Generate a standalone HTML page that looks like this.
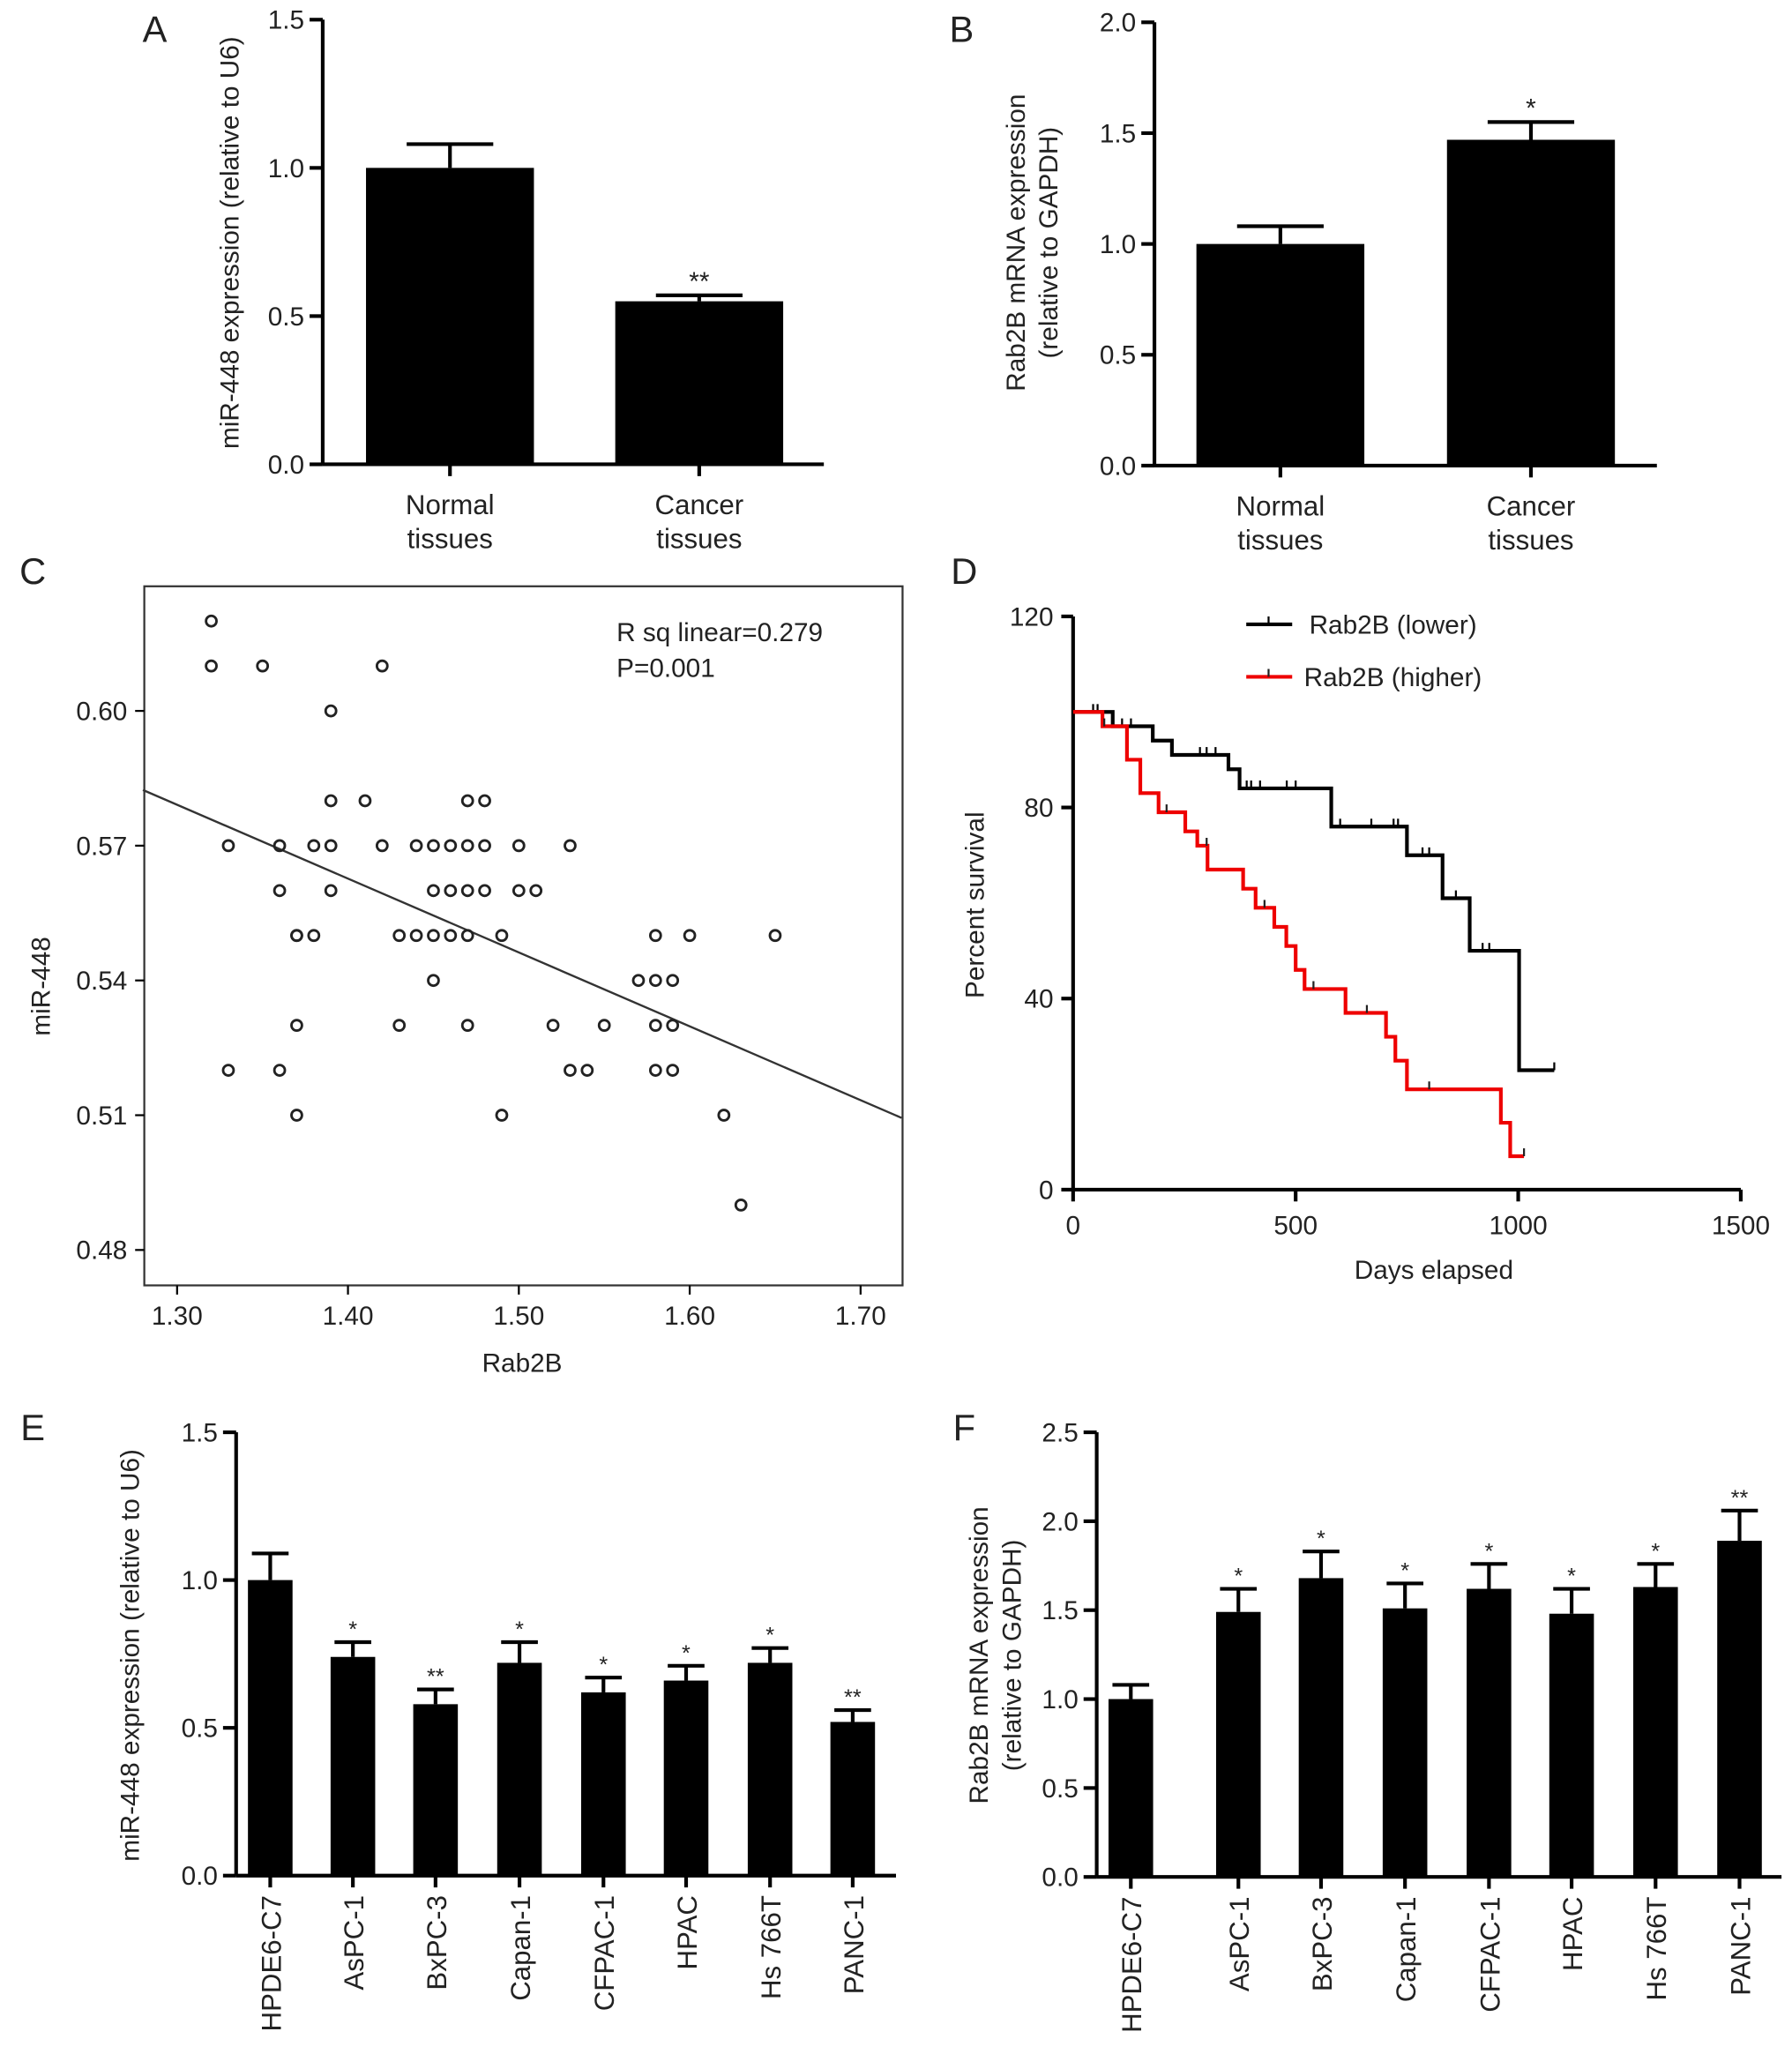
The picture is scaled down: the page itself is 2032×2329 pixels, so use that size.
<!DOCTYPE html>
<html><head><meta charset="utf-8"><style>
html,body{margin:0;padding:0;background:#fff}
svg{display:block;font-family:"Liberation Sans",Arial,sans-serif}
</style></head><body>
<svg id="fig" width="2032" height="2329" viewBox="0 0 1366 1566" preserveAspectRatio="none" xmlns="http://www.w3.org/2000/svg"></svg>
<script>
// Panel A
const aCats=["Normal|tissues","Cancer|tissues"];const aVals=[1.0,0.55];const aErr=[0.08,0.02];const aStars=["","**"];const aTicks=[0,0.5,1.0,1.5];
// Panel B
const bCats=["Normal|tissues","Cancer|tissues"];const bVals=[1.0,1.47];const bErr=[0.08,0.08];const bStars=["","*"];const bTicks=[0,0.5,1.0,1.5,2.0];
// Panel C
const cX=[1.32,1.32,1.35,1.42,1.39,1.33,1.36,1.38,1.39,1.39,1.41,1.42,1.36,1.39,1.37,1.37,1.38,1.33,1.36,1.37,1.37,1.43,1.44,1.45,1.46,1.47,1.44,1.45,1.46,1.47,1.48,1.47,1.48,1.45,1.46,1.47,1.48,1.50,1.51,1.50,1.53,1.49,1.45,1.43,1.47,1.49,1.52,1.53,1.54,1.55,1.57,1.58,1.59,1.58,1.60,1.58,1.59,1.58,1.59,1.62,1.63,1.65];
const cY=[0.62,0.61,0.61,0.61,0.60,0.57,0.57,0.57,0.57,0.58,0.58,0.57,0.56,0.56,0.55,0.55,0.55,0.52,0.52,0.53,0.51,0.55,0.55,0.55,0.55,0.55,0.57,0.57,0.57,0.57,0.57,0.58,0.58,0.56,0.56,0.56,0.56,0.56,0.56,0.57,0.57,0.55,0.54,0.53,0.53,0.51,0.53,0.52,0.52,0.53,0.54,0.54,0.54,0.55,0.55,0.53,0.53,0.52,0.52,0.51,0.49,0.55];
const cXTicks=[1.30,1.40,1.50,1.60,1.70];const cYTicks=[0.48,0.51,0.54,0.57,0.60];
const cLine=[[1.28,0.5824],[1.724,0.5094]];
// Panel D
const dBlackT=[0,89,179,222,349,374,580,750,830,891,1002,1081];const dBlackV=[100,97,94,91,88,84,76,70,61,50,25,25];
const dRedT=[0,66,121,151,192,252,279,302,382,410,452,479,500,520,612,703,724,750,961,982,1013];const dRedV=[100,97,90,83,79,75,72,67,63,59,55,51,46,42,37,32,27,21,14,7,7];
const dBlackCens=[[45,100],[55,100],[110,97],[130,97],[285,91],[300,91],[320,91],[390,84],[400,84],[420,84],[480,84],[500,84],[600,76],[670,76],[720,76],[730,76],[785,70],[800,70],[860,61],[920,50],[935,50],[1081,25]];
const dRedCens=[[70,97],[430,59],[210,79],[300,72],[540,42],[660,37],[800,21],[1013,7]];
const dXTicks=[0,500,1000,1500];const dYTicks=[0,40,80,120];
// Panel E
const eCats=["HPDE6-C7","AsPC-1","BxPC-3","Capan-1","CFPAC-1","HPAC","Hs 766T","PANC-1"];
const eVals=[1.0,0.74,0.58,0.72,0.62,0.66,0.72,0.52];const eErr=[0.09,0.05,0.05,0.07,0.05,0.05,0.05,0.04];const eStars=["","*","**","*","*","*","*","**"];const eTicks=[0,0.5,1.0,1.5];
// Panel F
const fVals=[1.0,1.49,1.68,1.51,1.62,1.48,1.63,1.89];const fErr=[0.08,0.13,0.15,0.14,0.14,0.14,0.13,0.17];const fStars=["","*","*","*","*","*","*","**"];const fTicks=[0,0.5,1.0,1.5,2.0,2.5];

const svg=document.getElementById('fig');const NS="http://www.w3.org/2000/svg";
function mk(tag,at,parent){const e=document.createElementNS(NS,tag);for(const k in at)e.setAttribute(k,at[k]);(parent||svg).appendChild(e);return e;}
function txt(s,x,y,size,anchor,parent,rot){const t=mk('text',{x:x,y:y,'font-size':size,'text-anchor':anchor||'middle',fill:'#222'},parent);if(rot)t.setAttribute('transform','rotate(-90 '+x+' '+y+')');t.textContent=s;return t;}
function line(x1,y1,x2,y2,parent,w,c){return mk('line',{x1:x1,y1:y1,x2:x2,y2:y2,stroke:c||'#000','stroke-width':w||2.8},parent);}
function letter(s,x,y){const t=txt(s,x,y,28,'middle');}

function barPanel(o){
  const g=mk('g',{});
  const ys=v=>o.y0-(v/o.max)*(o.y0-o.yTop);
  const ax=line(o.ax,o.yTop,o.ax,o.y0,g);
  const bx=line(o.ax,o.y0,o.xEnd,o.y0,g);
  o.ticks.forEach(t=>{line(o.ax-10,ys(t),o.ax,ys(t),g);const l=txt(t.toFixed(1),o.ax-14,ys(t)+7,20,'end',g);});
  o.vals.forEach((v,i)=>{const cx=o.centers[i];
    const r=mk('rect',{x:cx-o.bw/2,y:ys(v),width:o.bw,height:o.y0-ys(v),fill:'#000'},g);
    const ye=ys(v+o.err[i]);line(cx,ys(v),cx,ye,g);line(cx-o.cap/2,ye,cx+o.cap/2,ye,g);
    if(o.stars[i]){const s=txt(o.stars[i],cx,ye-4,o.starSize||20,'middle',g);}
    line(cx,o.y0,cx,o.y0+9,g);
    if(o.rotLabels){const l=txt(o.cats[i],cx+8,o.y0+15,21,'end',g,true);}
    else{const p=o.cats[i].split('|');const l1=txt(p[0],cx,o.y0+38,21,'middle',g);const l2=txt(p[1],cx,o.y0+64,21,'middle',g);}
  });
  o.ylab.forEach((s,k)=>{const l=txt(s,o.ylabX[k],o.ylabY,20,'middle',g,true);});
}
letter('A',118,32);
barPanel({name:'panel-a-chart',ax:246,yTop:15,y0:354,max:1.5,xEnd:628,centers:[343,533],bw:128,cap:66,vals:aVals,err:aErr,stars:aStars,ticks:aTicks,cats:aCats,ylab:['miR-448 expression (relative to U6)'],ylabX:[182],ylabY:185});
letter('B',733,32);
barPanel({name:'panel-b-chart',ax:880,yTop:17,y0:355,max:2.0,xEnd:1263,centers:[976,1167],bw:128,cap:66,vals:bVals,err:bErr,stars:bStars,ticks:bTicks,cats:bCats,ylab:['Rab2B mRNA expression','(relative to GAPDH)'],ylabX:[781,806],ylabY:185});
letter('E',25,1098);
barPanel({name:'panel-e-chart',ax:180,yTop:1092,y0:1430,max:1.5,xEnd:683,centers:[206,269,332,396,460,523,587,650],bw:34,cap:28,vals:eVals,err:eErr,stars:eStars,ticks:eTicks,cats:eCats,rotLabels:true,starSize:17,ylab:['miR-448 expression (relative to U6)'],ylabX:[106],ylabY:1262});
letter('F',735,1098);
barPanel({name:'panel-f-chart',ax:836,yTop:1092,y0:1431,max:2.5,xEnd:1358,centers:[862,944,1007,1071,1135,1198,1262,1326],bw:34,cap:28,vals:fVals,err:fErr,stars:fStars,ticks:fTicks,cats:eCats,rotLabels:true,starSize:17,ylab:['Rab2B mRNA expression','(relative to GAPDH)'],ylabX:[753,778],ylabY:1262});

// Panel C
letter('C',25,445);
(function(){const g=mk('g',{});
 const xs=v=>135+(v-1.30)*1302.5, ys=v=>542+(0.60-v)*3425;
 const box=mk('rect',{x:110,y:447,width:578,height:533,fill:'none',stroke:'#333','stroke-width':1.5},g);
 cXTicks.forEach(t=>{line(xs(t),980,xs(t),987,g,1.5);const l=txt(t.toFixed(2),xs(t),1010,20,'middle',g);});
 cYTicks.forEach(t=>{line(103,ys(t),110,ys(t),g,1.5);const l=txt(t.toFixed(2),97,ys(t)+7,20,'end',g);});
 const rl=line(xs(cLine[0][0]),ys(cLine[0][1]),xs(cLine[1][0]),ys(cLine[1][1]),g,1.6,'#333');
 cX.forEach((x,i)=>{const c=mk('circle',{cx:xs(x),cy:ys(cY[i]),r:4,fill:'none',stroke:'#222','stroke-width':1.9},g);});
 const a=txt('R sq linear=0.279',470,489,20,'start',g);
 const b=txt('P=0.001',470,516,20,'start',g);
 const xl=txt('Rab2B',398,1046,20,'middle',g);
 const yl=txt('miR-448',38,752,20,'middle',g,true);
})();

// Panel D
letter('D',735,445);
(function(){const g=mk('g',{});
 const xs=d=>818+d*0.3393, ys=v=>907-v*3.642;
 const ya=line(818,470,818,907,g);
 const xa=line(818,907,1327,907,g);
 dXTicks.forEach(t=>{line(xs(t),907,xs(t),916,g);const l=txt(String(t),xs(t),941,20,'middle',g);});
 dYTicks.forEach(t=>{line(809,ys(t),818,ys(t),g);const l=txt(String(t),803,ys(t)+7,20,'end',g);});
 function step(T,V,col,name,cens){let d='M'+xs(T[0])+' '+ys(V[0]);for(let i=1;i<T.length;i++){d+=' H'+xs(T[i])+' V'+ys(V[i]);}
  const p=mk('path',{d:d,fill:'none',stroke:col,'stroke-width':2.8},g);
  cens.forEach(c=>{const m=line(xs(c[0]),ys(c[1]),xs(c[0]),ys(c[1])-6,g,1.5,col==='#e00'?'#222':col);});}
 step(dBlackT,dBlackV,'#000','survival-curve-lower',dBlackCens);
 step(dRedT,dRedV,'#e00','survival-curve-higher',dRedCens);
 line(950,476,985,476,g,2.8,'#000');line(967,476,967,470,g,1.5);
 const l1=txt('Rab2B (lower)',998,483,20,'start',g);
 line(950,516,985,516,g,2.8,'#e00');line(967,516,967,510,g,1.5,'#222');
 const l2=txt('Rab2B (higher)',994,523,20,'start',g);
 const xl=txt('Days elapsed',1093,975,20,'middle',g);
 const yl=txt('Percent survival',750,690,20,'middle',g,true);
})();
</script>
</body></html>
